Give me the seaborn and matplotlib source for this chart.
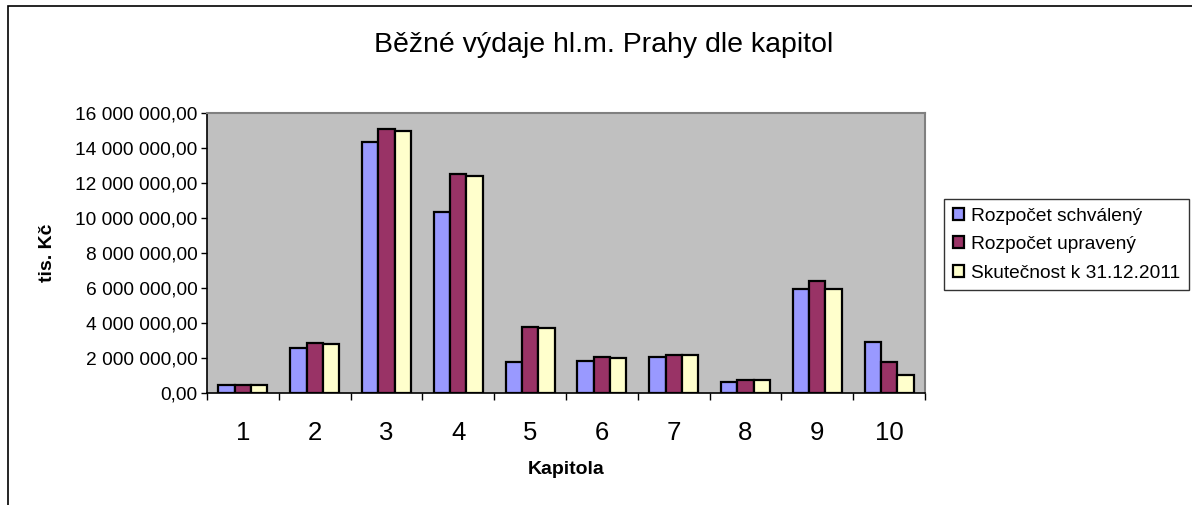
import matplotlib.pyplot as plt
import matplotlib.ticker as mticker
from matplotlib.patches import Rectangle
import seaborn as sns
import pandas as pd

kapitoly = ["1", "2", "3", "4", "5", "6", "7", "8", "9", "10"]
schvaleny = [440000, 2570000, 14360000, 10360000, 1750000, 1850000, 2080000, 610000, 5960000, 2900000]
upraveny = [440000, 2880000, 15070000, 12510000, 3790000, 2060000, 2170000, 720000, 6380000, 1750000]
skutecnost = [440000, 2780000, 14970000, 12420000, 3700000, 1980000, 2150000, 720000, 5960000, 1050000]
serie = ["Rozpočet schválený", "Rozpočet upravený", "Skutečnost k 31.12.2011"]
barvy = ["#9999FF", "#993366", "#FFFFCC"]

df = pd.DataFrame({
    "Kapitola": kapitoly * 3,
    "hodnota": schvaleny + upraveny + skutecnost,
    "serie": [s for s in serie for _ in kapitoly],
})

sns.set_style("white")
plt.rcParams["font.family"] = ["Liberation Sans", "DejaVu Sans"]
plt.rcParams["text.color"] = "black"
plt.rcParams["xtick.color"] = "black"
plt.rcParams["ytick.color"] = "black"

W, H = 1192, 505
fig = plt.figure(figsize=(W / 100, H / 100), dpi=100)
ax = fig.add_axes([207 / W, (H - 393) / H, 718 / W, 280 / H])

sns.barplot(data=df, x="Kapitola", y="hodnota", hue="serie", palette=barvy,
            saturation=1, width=0.68, edgecolor="black", linewidth=1.6,
            ax=ax, legend=True)

ax.set_facecolor("#C0C0C0")
ax.set_xlim(-0.5, 9.5)
ax.set_ylim(0, 16000000)
ax.yaxis.set_major_locator(mticker.MultipleLocator(2000000))
ax.yaxis.set_major_formatter(mticker.FuncFormatter(
    lambda v, p: f"{v:,.2f}".replace(",", " ").replace(".", ",")))
ax.tick_params(axis="y", left=True, length=4, width=1, color="black",
               labelsize=13.8, pad=3)
ax.set_xticks(range(len(kapitoly)))
ax.set_xticklabels(kapitoly)
ax.set_xticks([i - 0.5 for i in range(len(kapitoly) + 1)], minor=True)
ax.tick_params(axis="x", which="major", length=0, labelsize=18.5, pad=20)
ax.tick_params(axis="x", which="minor", bottom=True, length=5, width=1, color="black")

for side in ["left", "bottom"]:
    ax.spines[side].set_color("black")
    ax.spines[side].set_linewidth(1.2)
for side in ["top", "right"]:
    ax.spines[side].set_visible(True)
    ax.spines[side].set_color("#808080")
    ax.spines[side].set_linewidth(1.5)

ax.set_xlabel("")
ax.set_ylabel("")
fig.text(566 / W, 1 - 469 / H, "Kapitola", ha="center", va="center",
         fontsize=14, fontweight="bold")
fig.text(47 / W, 1 - 253 / H, "tis. Kč", ha="center", va="center",
         rotation=90, fontsize=14, fontweight="bold")
fig.text(604 / W, 1 - 45 / H, "Běžné výdaje hl.m. Prahy dle kapitol",
         ha="center", va="center", fontsize=20.5)

handles, labels = ax.get_legend_handles_labels()
ax.get_legend().remove()
leg = fig.legend(handles, labels, loc="upper left",
                 bbox_to_anchor=(944 / W, 1 - 199 / H), fontsize=13.8,
                 frameon=True, fancybox=False, edgecolor="black",
                 handlelength=0.6, handleheight=0.6, handletextpad=0.35,
                 labelspacing=0.6, borderpad=0.45, borderaxespad=0)
leg.get_frame().set_linewidth(1.0)

fig.patches.append(Rectangle((8 / W, -0.05), 1.1, 1.05 - 6 / H,
                             transform=fig.transFigure, fill=False,
                             edgecolor="black", linewidth=1.2))

fig.savefig("out.png", dpi=100, facecolor="white")
